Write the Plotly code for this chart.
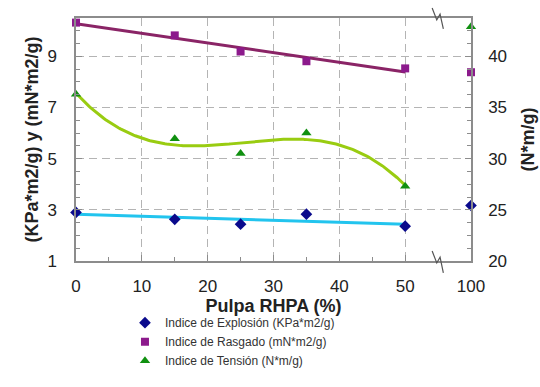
import numpy as np
import plotly.graph_objects as go

# ---- data ----
pulpa = [0, 15, 25, 35, 50, 100]                 # % RHPA
explosion = [2.90, 2.63, 2.44, 2.83, 2.36, 3.17]  # KPa*m2/g (left axis)
rasgado = [10.32, 9.82, 9.19, 8.81, 8.53, 8.38]   # mN*m2/g (left axis)
tension = [36.3, 31.95, 30.5, 32.5, 27.3, 42.9]   # N*m/g (right axis)

x_tickvals = [0, 10, 20, 30, 40, 50, 60]
x_ticktext = ["0", "10", "20", "30", "40", "50", "100"]
y_left_ticks = [1, 3, 5, 7, 9]
y_right_ticks = [20, 25, 30, 35, 40]

# broken axis: 100 is drawn at position 60
pos = [p if p <= 50 else 60 for p in pulpa]
fit_mask = [p <= 50 for p in pulpa]
fx = np.array([p for p, m in zip(pulpa, fit_mask) if m], dtype=float)
xs = np.linspace(0, 50, 201)

def fit(vals, deg):
    fy = np.array([v for v, m in zip(vals, fit_mask) if m], dtype=float)
    return np.polyval(np.polyfit(fx, fy, deg), xs)

fig = go.Figure()

# trend lines
fig.add_trace(go.Scatter(x=xs, y=fit(explosion, 1), mode="lines",
                         line=dict(color="#22c4ee", width=3), showlegend=False, hoverinfo="skip"))
fig.add_trace(go.Scatter(x=xs, y=fit(rasgado, 1), mode="lines",
                         line=dict(color="#8a2466", width=3), showlegend=False, hoverinfo="skip"))
fig.add_trace(go.Scatter(x=xs, y=fit(tension, 3), mode="lines", yaxis="y2",
                         line=dict(color="#99cc11", width=3), showlegend=False, hoverinfo="skip"))

# markers
fig.add_trace(go.Scatter(x=pos, y=explosion, mode="markers", cliponaxis=False,
                         name="Indice de Explosión (KPa*m2/g)",
                         marker=dict(symbol="diamond", size=9, color="#0a0a8c")))
fig.add_trace(go.Scatter(x=pos, y=rasgado, mode="markers", cliponaxis=False,
                         name="Indice de Rasgado (mN*m2/g)",
                         marker=dict(symbol="square", size=8, color="#8c1a8c")))
fig.add_trace(go.Scatter(x=pos, y=tension, mode="markers", cliponaxis=False, yaxis="y2",
                         name="Indice de Tensión (N*m/g)",
                         marker=dict(symbol="triangle-up", size=9, color="#109010")))

font = "Liberation Sans, Arial, sans-serif"
gridc = "#b4b4b4"
axc = "#8c8c8c"

# axis break zigzags (at position 55)
def zig(y0, y1, ym1, y2):
    return f"M 54.1,{y0} L 54.8,{y1} L 55.3,{ym1} L 55.8,{y2}"

shapes = [
    dict(type="path", xref="x", yref="paper", path=zig(1.041, 0.992, 1.016, 0.955),
         line=dict(color="#555555", width=1.2)),
    dict(type="path", xref="x", yref="paper", path=zig(0.041, -0.008, 0.016, -0.049),
         line=dict(color="#555555", width=1.2)),
]

fig.update_layout(
    width=540, height=387,
    margin=dict(l=76, r=69, t=18, b=124),
    paper_bgcolor="white", plot_bgcolor="white",
    font=dict(family=font, size=17, color="#222222"),
    shapes=shapes,
    xaxis=dict(range=[0, 60], tickmode="array", tickvals=x_tickvals, ticktext=x_ticktext,
               showline=True, linecolor=axc, linewidth=1.5, mirror=True, automargin=True,
               showgrid=True, gridcolor=gridc, griddash="8px,5px", gridwidth=1.2,
               ticks="inside", ticklen=6, tickcolor=axc, zeroline=False,
               ticklabelstandoff=9, tickfont=dict(size=17),
               minor=dict(tickvals=[5, 15, 25, 35, 45], ticks="inside", ticklen=4,
                          tickcolor=axc, showgrid=False),
               title=dict(text="<b>Pulpa RHPA (%)</b>", font=dict(size=18), standoff=0)),
    yaxis=dict(range=[1, 10.5], tickmode="array", tickvals=y_left_ticks, automargin=True,
               showline=True, linecolor=axc, linewidth=1.5,
               showgrid=True, gridcolor=gridc, griddash="8px,5px", gridwidth=1.2,
               ticks="inside", ticklen=6, tickcolor=axc, zeroline=False,
               ticklabelstandoff=14, tickfont=dict(size=17),
               minor=dict(dtick=0.5, tick0=1, ticks="inside", ticklen=4,
                          tickcolor=axc, showgrid=False),
               title=dict(text="<b>(KPa*m2/g) y (mN*m2/g)</b>", font=dict(size=18), standoff=4)),
    yaxis2=dict(range=[20, 43.75], overlaying="y", side="right", tickmode="array",
                tickvals=y_right_ticks, showline=True, linecolor=axc, linewidth=1.5,
                showgrid=False, ticks="inside", ticklen=6, tickcolor=axc, zeroline=False,
                ticklabelstandoff=12, tickfont=dict(size=17), automargin=False,
                minor=dict(dtick=1.25, tick0=20, ticks="inside", ticklen=4,
                           tickcolor=axc, showgrid=False),
                title=dict(text="<b>(N*m/g)</b>", font=dict(size=18))),
    legend=dict(x=0.124, y=-0.47, xanchor="left", yanchor="bottom",
                font=dict(size=12, color="#333333"), bgcolor="rgba(0,0,0,0)",
                itemwidth=30, tracegroupgap=0),
)

fig.write_html("out.html")
